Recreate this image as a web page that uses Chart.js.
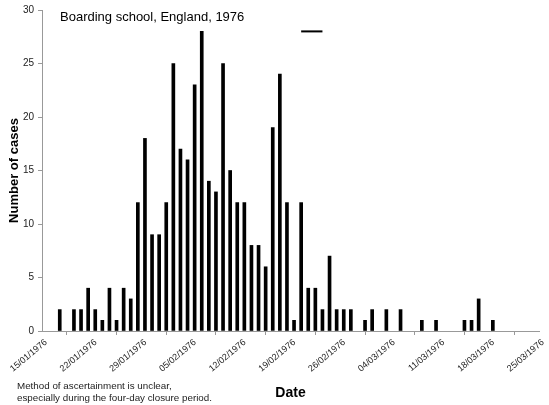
<!DOCTYPE html>
<html>
<head>
<meta charset="utf-8">
<script src="https://cdn.jsdelivr.net/npm/chart.js@4.4.1/dist/chart.umd.min.js"></script>
<style>
  html, body { margin: 0; padding: 0; background: #fff; }
  #wrap { width: 549px; height: 405px; position: relative; }
</style>
</head>
<body>
<div id="wrap"><canvas id="epi"></canvas></div>
<script>
// Fechas de inicio de síntomas y número de casos
const fechas = [
  '17/01', '19/01', '20/01', '21/01', '22/01', '23/01', '24/01', '25/01', '26/01', '27/01',
  '28/01', '29/01', '30/01', '31/01', '01/02', '02/02', '03/02', '04/02', '05/02', '06/02',
  '07/02', '08/02', '09/02', '10/02', '11/02', '12/02', '13/02', '14/02', '15/02', '16/02',
  '17/02', '18/02', '19/02', '20/02', '21/02', '22/02', '23/02', '24/02', '25/02', '26/02',
  '27/02', '29/02', '01/03', '03/03', '05/03', '08/03', '10/03', '14/03', '15/03', '16/03',
  '18/03'
];
const casos = [
  2, 2, 2, 4, 2, 1, 4, 1, 4, 3,
  12, 18, 9, 9, 12, 25, 17, 16, 23, 28,
  14, 13, 25, 15, 12, 12, 8, 8, 6, 19,
  24, 12, 1, 12, 4, 4, 2, 7, 2, 2,
  2, 1, 2, 2, 2, 1, 1, 1, 1, 3,
  1
];
// Periodo de cierre (cuatro días)
const cierre = ['20/02', '23/02'];
const nivelCierre = 28;

const etiquetasX = ['15/01/1976', '22/01/1976', '29/01/1976', '05/02/1976', '12/02/1976', '19/02/1976',
                    '26/02/1976', '04/03/1976', '11/03/1976', '18/03/1976', '25/03/1976'];

// días desde el 15/01/1976
const diaDe = (f) => {
  const [d, m] = f.split('/').map(Number);
  return (Date.UTC(1976, m - 1, d) - Date.UTC(1976, 0, 15)) / 86400000;
};

const font = 'Liberation Sans, Arial, sans-serif';

const notas = {
  id: 'notas',
  afterDraw(chart) {
    const ctx = chart.ctx;
    ctx.save();
    ctx.fillStyle = '#000';
    ctx.textBaseline = 'middle';
    ctx.textAlign = 'left';
    ctx.font = '13px ' + font;
    ctx.fillText('Boarding school, England, 1976', 60, 17);
    ctx.font = '9.8px ' + font;
    ctx.fillStyle = '#222';
    ctx.fillText('Method of ascertainment is unclear,', 17, 386);
    ctx.fillText('especially during the four-day closure period.', 17, 398);
    ctx.restore();
  }
};

new Chart(document.getElementById('epi'), {
  type: 'bar',
  data: {
    datasets: [{
      type: 'bar',
      label: 'Casos',
      data: fechas.map((f, i) => ({ x: diaDe(f) + 0.5, y: casos[i] })),
      backgroundColor: '#000',
      barThickness: 3
    }, {
      type: 'line',
      label: 'Cierre',
      data: cierre.map(f => ({ x: diaDe(f) + 0.5, y: nivelCierre })),
      borderColor: '#000',
      borderWidth: 2,
      pointRadius: 0
    }]
  },
  options: {
    responsive: true,
    maintainAspectRatio: false,
    animation: false,
    layout: { padding: { top: 10, right: 10, left: 0, bottom: 0 } },
    plugins: { legend: { display: false }, tooltip: { enabled: false } },
    scales: {
      x: {
        type: 'linear',
        offset: false,
        min: 0,
        max: diaDe('25/03'),
        afterFit: (s) => { s.height = 74; },
        ticks: {
          stepSize: 7,
          autoSkip: false,
          minRotation: 40,
          maxRotation: 40,
          padding: 2,
          labelOffset: 4,
          color: '#222',
          font: { family: font, size: 9 },
          callback: (v, i) => etiquetasX[i]
        },
        grid: { drawOnChartArea: false, tickLength: 4, color: '#999' },
        border: { color: '#999' },
        title: {
          display: true,
          text: 'Date',
          color: '#000',
          font: { family: font, size: 14, weight: 'bold' },
          padding: { top: 0, bottom: 3 }
        }
      },
      y: {
        min: 0,
        max: 30,
        afterFit: (s) => { s.width = 42; },
        ticks: {
          stepSize: 5,
          padding: 4,
          color: '#222',
          font: { family: font, size: 10 }
        },
        grid: { drawOnChartArea: false, tickLength: 4, color: '#999' },
        border: { color: '#999' },
        title: {
          display: true,
          text: 'Number of cases',
          color: '#000',
          font: { family: font, size: 13, weight: 'bold' },
          padding: { top: 7, bottom: 0 }
        }
      }
    }
  },
  plugins: [notas]
});
</script>
</body>
</html>
